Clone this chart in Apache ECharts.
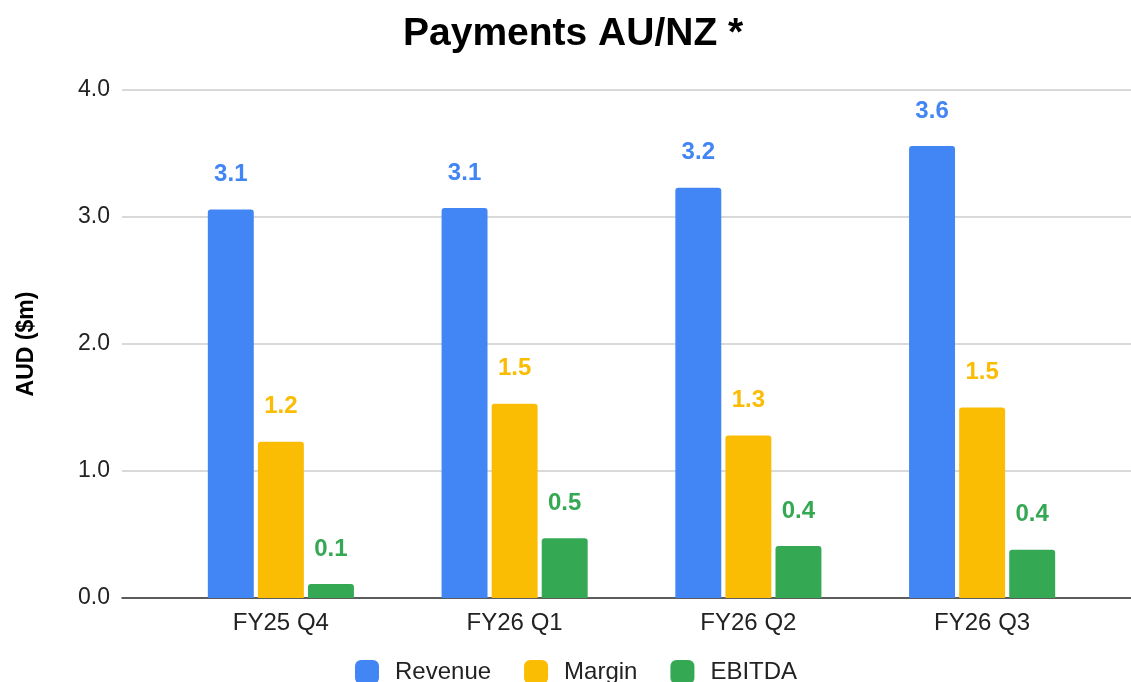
<!DOCTYPE html>
<html>
<head>
<meta charset="utf-8">
<script src="https://cdn.jsdelivr.net/npm/echarts@6/dist/echarts.min.js"></script>
<style>html,body{margin:0;padding:0;background:#fff}#c{width:1131px;height:682px}</style>
</head>
<body>
<div id="c"></div>
<script>
var categories = ['FY25 Q4', 'FY26 Q1', 'FY26 Q2', 'FY26 Q3'];
var revenue = [3.06, 3.07, 3.23, 3.56];
var margin = [1.23, 1.53, 1.28, 1.50];
var ebitda = [0.11, 0.47, 0.41, 0.38];
var seriesNames = ['Revenue', 'Margin', 'EBITDA'];
var colors = ['#4285F4', '#FBBC04', '#34A853'];

var FONT = 'Arial, "Liberation Sans", sans-serif';
var chart = echarts.init(document.getElementById('c'), null, {renderer: 'canvas'});

function barSeries(name, data, color) {
  return {
    name: name, type: 'bar', xAxisIndex: 1, yAxisIndex: 1,
    data: data, barGap: '9%', barCategoryGap: '37.5%',
    itemStyle: {color: color, borderRadius: [3, 3, 0, 0]},
    label: {show: true, position: 'top', distance: 23, color: color,
      fontFamily: FONT, fontWeight: 'bold', fontSize: 24,
      formatter: function (p) { return p.value.toFixed(1); }},
    emphasis: {disabled: true}
  };
}

chart.setOption({
  animation: false,
  color: colors,
  title: {text: 'Payments AU/NZ *', left: 398, top: 10,
    textStyle: {fontFamily: FONT, fontWeight: 'bold', fontSize: 39, color: '#000'}},
  legend: {bottom: -7, left: 350, itemWidth: 24, itemHeight: 24, itemGap: 33,
    icon: 'roundRect', data: seriesNames,
    textStyle: {fontFamily: FONT, fontSize: 24, color: '#222', padding: [0, 0, 0, 11]}},
  grid: [
    {left: 122, right: 0, top: 90, bottom: 84, outerBoundsMode: 'none', containLabel: false},
    {left: 164, right: 32, top: 90, bottom: 84, outerBoundsMode: 'none', containLabel: false}
  ],
  xAxis: [
    {type: 'value', gridIndex: 0, min: 0, max: 1, axisLine: {show: true, onZero: false, lineStyle: {color: '#333', width: 1.5}},
      axisTick: {show: false}, axisLabel: {show: false}, splitLine: {show: false}},
    {type: 'category', gridIndex: 1, data: categories,
      axisLine: {show: false}, axisTick: {show: false},
      axisLabel: {fontFamily: FONT, fontSize: 24, color: '#222', margin: 13}}
  ],
  yAxis: [
    {type: 'value', gridIndex: 0, min: 0, max: 4, interval: 1,
      name: 'AUD ($m)', nameLocation: 'middle', nameGap: 84, nameRotate: 90,
      nameTextStyle: {fontFamily: FONT, fontWeight: 'bold', fontSize: 23, color: '#000'},
      axisLine: {show: false}, axisTick: {show: false},
      axisLabel: {fontFamily: FONT, fontSize: 23, color: '#222', margin: 12,
        formatter: function (v) { return v.toFixed(1); }},
      splitLine: {lineStyle: {color: '#ccc', width: 1.5}}},
    {type: 'value', gridIndex: 1, min: 0, max: 4, interval: 1, show: false, splitLine: {show: false}}
  ],
  series: [
    barSeries(seriesNames[0], revenue, colors[0]),
    barSeries(seriesNames[1], margin, colors[1]),
    barSeries(seriesNames[2], ebitda, colors[2])
  ]
});
</script>
</body>
</html>
